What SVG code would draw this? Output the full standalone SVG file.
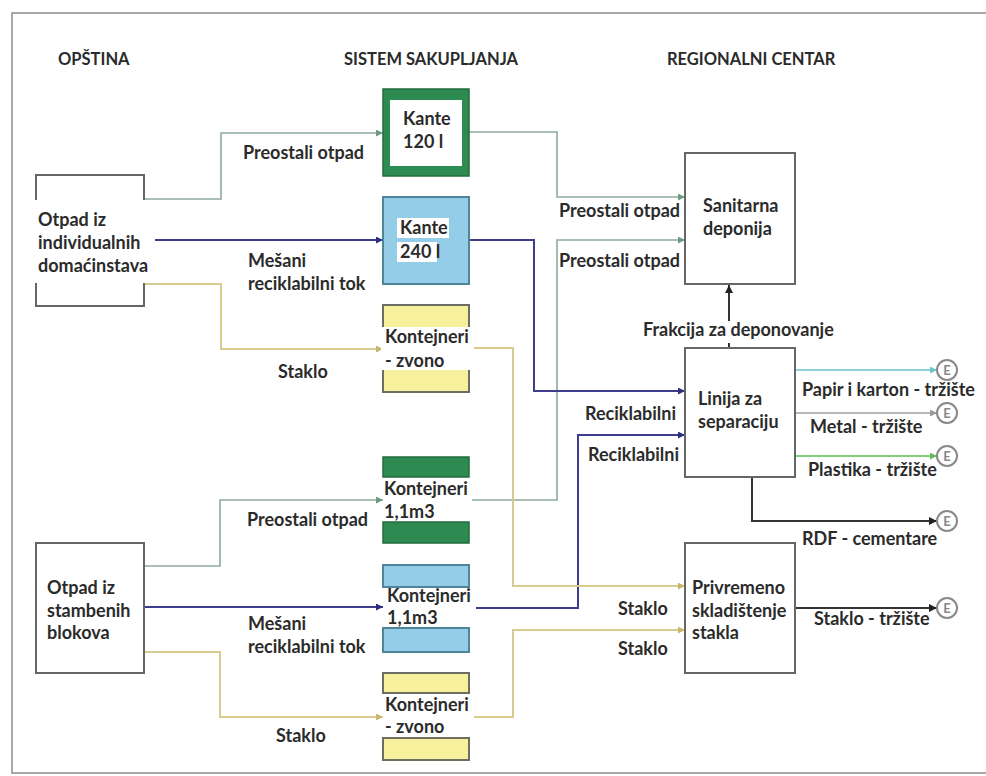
<svg xmlns="http://www.w3.org/2000/svg" width="986" height="776" viewBox="0 0 986 776">
<defs>
<style>
.t{font-family:Lato,"Liberation Sans",sans-serif;font-weight:700;font-size:18px;fill:#2b2b2b}
.h{font-family:Lato,"Liberation Sans",sans-serif;font-weight:700;font-size:16.5px;fill:#2b2b2b}
.box{fill:#fff;stroke:#666;stroke-width:2}
.c{fill:none;stroke-width:2}
.gr{stroke:#8eab9b;stroke-width:1.6}
.pu{stroke:#3d3d8c}
.ye{stroke:#d8cb8e}
.bk{stroke:#333}
.te{stroke:#8fd2d8}
.me{stroke:#b8b8b8}
.pl{stroke:#80d080}
.eC{fill:#fff;stroke:#888;stroke-width:2}
.eT{font-family:Lato,"Liberation Sans",sans-serif;font-size:13px;font-weight:700;fill:#888;text-anchor:middle}
.gF{fill:#2d8a50;stroke:#236b3e;stroke-width:1.5}
.bF{fill:#93cde8;stroke:#4f8499;stroke-width:2}
.yF{fill:#f7f09c;stroke:#6e6e60;stroke-width:2}
.wb{fill:#fff}
</style>
<marker id="aGr" viewBox="0 0 10 10" refX="10" refY="5" markerWidth="7" markerHeight="7" markerUnits="userSpaceOnUse" orient="auto"><path d="M0,0L10,5L0,10z" fill="#6f9a82"/></marker>
<marker id="aPu" viewBox="0 0 10 10" refX="10" refY="5" markerWidth="7" markerHeight="7" markerUnits="userSpaceOnUse" orient="auto"><path d="M0,0L10,5L0,10z" fill="#2e2e80"/></marker>
<marker id="aYe" viewBox="0 0 10 10" refX="10" refY="5" markerWidth="7" markerHeight="7" markerUnits="userSpaceOnUse" orient="auto"><path d="M0,0L10,5L0,10z" fill="#c8b56e"/></marker>
<marker id="aBk" viewBox="0 0 10 10" refX="10" refY="5" markerWidth="8" markerHeight="8" markerUnits="userSpaceOnUse" orient="auto"><path d="M0,0L10,5L0,10z" fill="#222"/></marker>
<marker id="aTe" viewBox="0 0 10 10" refX="10" refY="5" markerWidth="7" markerHeight="7" markerUnits="userSpaceOnUse" orient="auto"><path d="M0,0L10,5L0,10z" fill="#6cc3c9"/></marker>
<marker id="aMe" viewBox="0 0 10 10" refX="10" refY="5" markerWidth="7" markerHeight="7" markerUnits="userSpaceOnUse" orient="auto"><path d="M0,0L10,5L0,10z" fill="#999"/></marker>
<marker id="aPl" viewBox="0 0 10 10" refX="10" refY="5" markerWidth="7" markerHeight="7" markerUnits="userSpaceOnUse" orient="auto"><path d="M0,0L10,5L0,10z" fill="#5cbf5c"/></marker>
</defs>
<rect width="986" height="776" fill="#fff"/>
<path d="M986,13H12V773H986" fill="none" stroke="#a8a8a8" stroke-width="2"/>

<g id="headers">
<text class="h" x="58" y="65">OPŠTINA</text>
<text class="h" x="344" y="65">SISTEM SAKUPLJANJA</text>
<text class="h" x="667" y="65">REGIONALNI CENTAR</text>
</g>

<g id="connectors">
<path class="c gr" d="M144,199H221V133H383" marker-end="url(#aGr)"/>
<path class="c pu" d="M155,240H383" marker-end="url(#aPu)"/>
<path class="c ye" d="M144,284H221V349H383" marker-end="url(#aYe)"/>
<path class="c gr" d="M469,132H557V197H685" marker-end="url(#aGr)"/>
<path class="c gr" d="M472,500H557V240H685" marker-end="url(#aGr)"/>
<path class="c pu" d="M469,240H534V391H685" marker-end="url(#aPu)"/>
<path class="c pu" d="M476,608H578V435H685" marker-end="url(#aPu)"/>
<path class="c ye" d="M472,348H513V586H685" marker-end="url(#aYe)"/>
<path class="c ye" d="M474,717H513V630H685" marker-end="url(#aYe)"/>
<path class="c gr" d="M144,566H220V500H383" marker-end="url(#aGr)"/>
<path class="c pu" d="M144,607H383" marker-end="url(#aPu)"/>
<path class="c ye" d="M144,652H220V717H383" marker-end="url(#aYe)"/>
<path class="c bk" d="M729,348V285" marker-end="url(#aBk)"/>
<path class="c te" d="M795,370H937" marker-end="url(#aTe)"/>
<path class="c me" d="M795,413H937" marker-end="url(#aMe)"/>
<path class="c pl" d="M795,456H937" marker-end="url(#aPl)"/>
<path class="c bk" d="M752,477V521H937" marker-end="url(#aBk)"/>
<path class="c bk" d="M795,608H937" marker-end="url(#aBk)"/>
<text class="t" x="243" y="159">Preostali otpad</text>
<text class="t" x="248" y="267">Mešani</text>
<text class="t" x="248" y="290">reciklabilni tok</text>
<text class="t" x="278" y="378">Staklo</text>
<text class="t" x="559" y="217">Preostali otpad</text>
<text class="t" x="559" y="267">Preostali otpad</text>
<rect class="wb" x="641" y="321" width="193" height="22"/>
<text class="t" x="643" y="336">Frakcija za deponovanje</text>
<text class="t" x="585" y="420">Reciklabilni</text>
<text class="t" x="588" y="461">Reciklabilni</text>
<text class="t" x="802" y="396">Papir i karton - tržište</text>
<text class="t" x="810" y="433">Metal - tržište</text>
<text class="t" x="808" y="476">Plastika - tržište</text>
<text class="t" x="802" y="545">RDF - cementare</text>
<text class="t" x="814" y="625">Staklo - tržište</text>
<text class="t" x="618" y="615">Staklo</text>
<text class="t" x="618" y="655">Staklo</text>
<text class="t" x="247" y="526">Preostali otpad</text>
<text class="t" x="248" y="630">Mešani</text>
<text class="t" x="248" y="653">reciklabilni tok</text>
<text class="t" x="276" y="742">Staklo</text>
</g>

<g id="otpad-individualnih">
<path d="M36,200V175H144V200M36,283V306H144V283" fill="none" stroke="#666" stroke-width="2"/>
<text class="t" x="38" y="226">Otpad iz</text>
<text class="t" x="38" y="249">individualnih</text>
<text class="t" x="38" y="272">domaćinstava</text>
</g>

<g id="otpad-stambenih">
<rect class="box" x="36" y="543" width="108" height="130"/>
<text class="t" x="47" y="594">Otpad iz</text>
<text class="t" x="47" y="617">stambenih</text>
<text class="t" x="47" y="639">blokova</text>
</g>

<g id="kante-120">
<rect class="gF" x="383" y="89" width="86" height="87"/>
<rect class="wb" x="390" y="100" width="72" height="66"/>
<text class="t" x="403" y="125">Kante</text>
<text class="t" x="403" y="148">120 l</text>
</g>

<g id="kante-240">
<rect class="bF" x="383" y="197" width="86" height="87"/>
<rect class="wb" x="397" y="218" width="52" height="20"/>
<rect class="wb" x="397" y="242" width="40" height="20"/>
<text class="t" x="400" y="234">Kante</text>
<text class="t" x="400" y="258">240 l</text>
</g>

<g id="zvono-1">
<rect class="yF" x="383" y="305" width="86" height="87"/>
<rect class="wb" x="381" y="327" width="93" height="43"/>
<text class="t" x="385" y="343">Kontejneri</text>
<text class="t" x="385" y="367">- zvono</text>
</g>

<g id="kontejneri-zeleni">
<rect class="gF" x="383" y="457" width="86" height="20"/>
<rect class="gF" x="383" y="522" width="86" height="21"/>
<text class="t" x="384" y="495">Kontejneri</text>
<text class="t" x="384" y="518">1,1m3</text>
</g>

<g id="kontejneri-plavi">
<rect class="bF" x="383" y="565" width="86" height="22"/>
<rect class="bF" x="383" y="628" width="86" height="24"/>
<text class="t" x="387" y="602">Kontejneri</text>
<text class="t" x="387" y="624">1,1m3</text>
</g>

<g id="zvono-2">
<rect class="yF" x="383" y="673" width="86" height="20"/>
<rect class="yF" x="383" y="738" width="86" height="22"/>
<text class="t" x="385" y="711">Kontejneri</text>
<text class="t" x="385" y="733">- zvono</text>
</g>

<g id="sanitarna-deponija">
<rect class="box" x="685" y="153" width="110" height="131"/>
<text class="t" x="703" y="212">Sanitarna</text>
<text class="t" x="703" y="235">deponija</text>
</g>

<g id="linija-separacija">
<rect class="box" x="685" y="348" width="110" height="129"/>
<text class="t" x="698" y="405">Linija za</text>
<text class="t" x="698" y="428">separaciju</text>
</g>

<g id="privremeno-skladistenje">
<rect class="box" x="685" y="543" width="110" height="130"/>
<text class="t" x="692" y="594">Privremeno</text>
<text class="t" x="692" y="617">skladištenje</text>
<text class="t" x="692" y="639">stakla</text>
</g>

<g id="e-papir"><circle class="eC" cx="947" cy="370" r="10"/><text class="eT" x="947" y="375">E</text></g>
<g id="e-metal"><circle class="eC" cx="947" cy="413" r="10"/><text class="eT" x="947" y="418">E</text></g>
<g id="e-plastika"><circle class="eC" cx="947" cy="456" r="10"/><text class="eT" x="947" y="461">E</text></g>
<g id="e-rdf"><circle class="eC" cx="947" cy="521" r="10"/><text class="eT" x="947" y="526">E</text></g>
<g id="e-staklo"><circle class="eC" cx="947" cy="608" r="10"/><text class="eT" x="947" y="613">E</text></g>
</svg>
